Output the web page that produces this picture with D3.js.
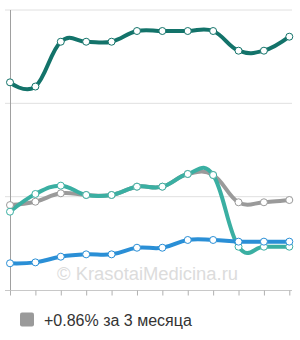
<!DOCTYPE html>
<html><head><meta charset="utf-8">
<script src="https://cdn.jsdelivr.net/npm/d3@7"></script>
<style>body{margin:0;background:#fff}svg{display:block}</style>
</head><body>
<svg id="c" width="300" height="340"></svg>
<script>
const categories = [1,2,3,4,5,6,7,8,9,10,11,12];
const yTicks = [0,10,20,30];
const darkTeal = [22.25,21.8,26.6,26.6,26.6,27.75,27.75,27.75,27.75,25.64,25.64,27.14];
const gray     = [9.1,9.46,10.36,10.18,10.18,11.07,11.07,12.43,12.32,9.4,9.4,9.64];
const teal     = [8.39,10.29,11.18,10.18,10.18,11.07,11.07,12.43,12.32,4.64,4.64,4.64];
const blue     = [2.86,2.96,3.57,3.82,3.82,4.53,4.53,5.36,5.36,5.18,5.18,5.18];
const legendLabel = "+0.86% за 3 месяца";
const watermark = "© KrasotaiMedicina.ru";

const svg = d3.select("#c");
const x = d3.scalePoint().domain(categories).range([10,289.3]);
const y = d3.scaleLinear().domain([0,30]).range([290,10]);

// gridlines
svg.append("g").selectAll("line").data(yTicks.slice(1)).join("line")
  .attr("x1",5).attr("x2",292).attr("y1",d=>y(d)).attr("y2",d=>y(d))
  .attr("stroke","#e0e0e0").attr("stroke-width",1);

// watermark
svg.append("text").attr("x",57).attr("y",280).attr("font-family","Liberation Sans, Arial, sans-serif")
  .attr("font-size",18).attr("fill","#dcdcdc")
  .attr("textLength",181).attr("lengthAdjust","spacingAndGlyphs").text(watermark);

// y axis line
svg.append("line").attr("x1",10.5).attr("x2",10.5).attr("y1",10).attr("y2",290).attr("stroke","#a0a0a0");
// x axis
const xa = svg.append("g").attr("transform","translate(0,290.5)")
  .call(d3.axisBottom(x).tickSize(5).tickFormat(""));
xa.select(".domain").attr("stroke","#c8c8c8").attr("d","M5,0H292");
xa.selectAll(".tick line").attr("stroke","#b0b0b0");

const curve = d3.curveCardinal.tension(-0.2);
const series = [
  {vals: gray, color:"#9a9a9a"},
  {vals: teal, color:"#3aafa2"},
  {vals: blue, color:"#2a8fd6"},
  {vals: darkTeal, color:"#13736a"}
];
const line = d3.line().x((d,i)=>x(categories[i])).y(d=>y(d)).curve(curve);
series.forEach(s=>{
  svg.append("path").attr("d",line(s.vals)).attr("fill","none")
    .attr("stroke",s.color).attr("stroke-width",4).attr("stroke-linejoin","round");
});
series.forEach(s=>{
  svg.append("g").selectAll("circle").data(s.vals).join("circle")
    .attr("cx",(d,i)=>x(categories[i])).attr("cy",d=>y(d)).attr("r",3.5)
    .attr("fill","#fff").attr("stroke",s.color).attr("stroke-width",1);
});

// legend
svg.append("rect").attr("x",20).attr("y",312.5).attr("width",14).attr("height",14).attr("rx",2)
  .attr("fill","#9a9a9a");
svg.append("text").attr("x",44).attr("y",326).attr("font-family","Liberation Sans, Arial, sans-serif")
  .attr("font-size",16).attr("fill","#333").text(legendLabel);
</script>
</body></html>
